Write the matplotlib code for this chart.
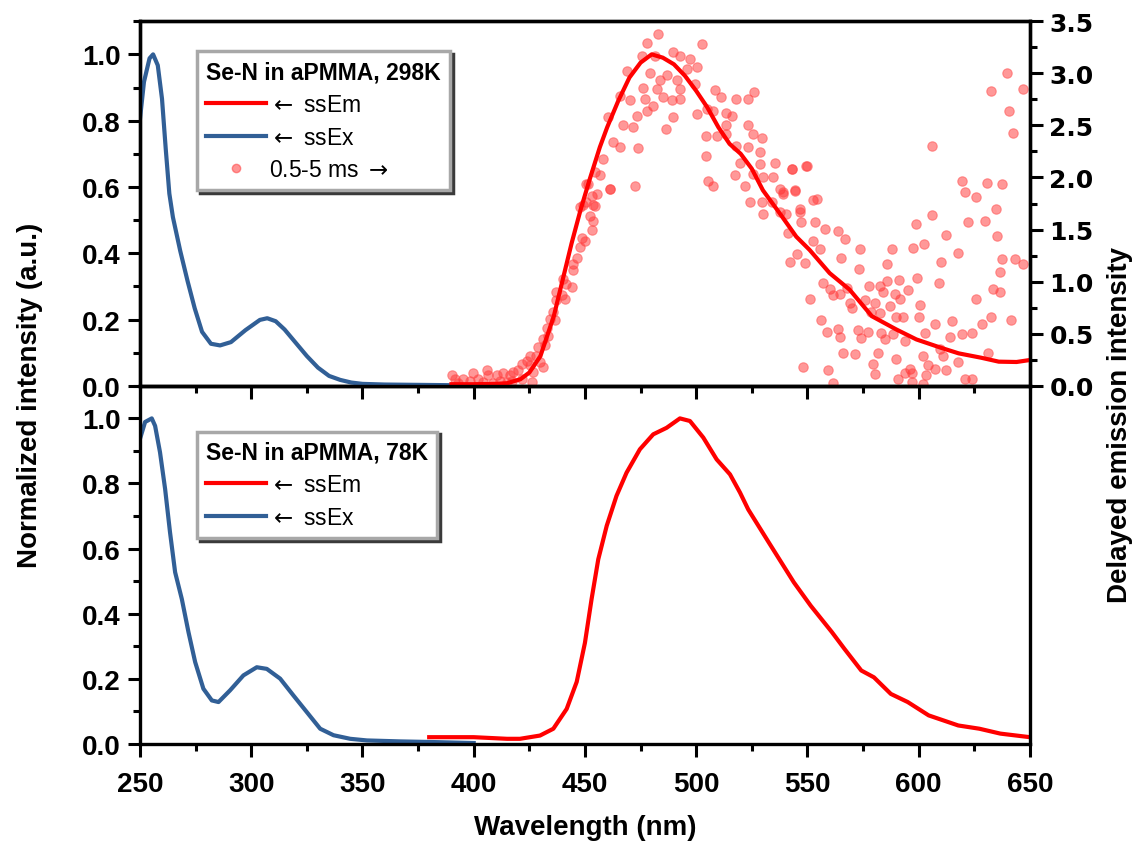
import matplotlib.pyplot as plt
import numpy as np
from matplotlib.ticker import MultipleLocator, FormatStrFormatter
from matplotlib.lines import Line2D

plt.rcParams['font.family'] = ['Liberation Sans', 'DejaVu Sans']

# ---- 298 K, steady state excitation (blue) ----
ex298_nm = [250, 251.8, 254.3, 255.9, 258, 259.9, 261.6, 263.2, 264.8, 268.1, 271.4, 274.6,
            277.9, 281.9, 286, 290.9, 297.4, 303.9, 307.2, 311, 315, 320, 325, 330, 335, 340,
            345, 350, 360, 375, 390]
ex298_int = [0.805, 0.917, 0.988, 1.0, 0.967, 0.866, 0.713, 0.58, 0.509, 0.407, 0.316, 0.234,
             0.163, 0.127, 0.122, 0.132, 0.168, 0.199, 0.204, 0.195, 0.17, 0.13, 0.09, 0.055,
             0.03, 0.018, 0.01, 0.006, 0.004, 0.003, 0.002]

# ---- 298 K, steady state emission (red) ----
em298_nm = [390, 400, 410, 415, 421, 425, 430, 433, 436, 440, 444, 448, 452, 456.7, 460, 465,
            470, 475, 480, 485, 490, 495, 500, 505, 510, 515, 520, 525, 530, 537.6, 545, 551,
            560, 569, 579, 590, 599, 610, 618, 628, 636, 644, 650]
em298_int = [0.005, 0.005, 0.006, 0.008, 0.02, 0.04, 0.09, 0.15, 0.21, 0.32, 0.43, 0.53, 0.62,
             0.72, 0.78, 0.86, 0.93, 0.975, 1.0, 0.99, 0.97, 0.935, 0.89, 0.84, 0.78, 0.73,
             0.70, 0.655, 0.59, 0.52, 0.45, 0.41, 0.34, 0.29, 0.21, 0.17, 0.14, 0.115, 0.098,
             0.085, 0.073, 0.072, 0.078]

# ---- 298 K, delayed emission 0.5-5 ms (right axis) ----
delayed_nm = [
    482.8, 477.7, 502.4, 475.5, 481.5, 489.7, 492.7, 497.2, 468.7, 479.2, 486.7, 483.7, 491.2,
    500.2, 495.7, 476.2, 482.2, 492.7, 499.4, 465.7, 470.2, 476.9, 485.2, 489.0, 492.7, 508.3,
    511.3, 518.1, 523.3, 525.9, 480.7, 477.7, 473.2, 460.5, 489.7, 500.2, 504.7, 507.6, 513.6,
    515.9, 467.2, 471.7, 486.4, 513.6, 523.3, 462.7, 465.7, 474.0, 504.4, 509.2, 513.6, 525.6,
    529.4, 458.2, 504.4, 518.1, 523.3, 528.7, 519.7, 528.7, 535.4, 542.9, 549.6, 454.5, 456.7,
    517.4, 525.6, 530.1, 534.6, 505.4, 507.6, 472.5, 461.2, 451.5, 521.8, 537.6, 544.4, 453.0,
    454.5, 524.2, 529.4, 533.9, 539.1, 530.1, 546.6, 552.6, 537.6, 450.7, 447.8,
    461.2, 450.7, 455.2, 449.2, 453.7, 452.2, 453.7, 453.0, 448.5, 450.0, 447.8, 446.3, 444.7,
    444.7, 440.2, 441.7, 444.0, 437.2, 439.5, 441.0, 437.2, 435.7, 434.3, 436.5, 432.8, 433.5,
    431.2, 432.0, 429.0, 428.2, 425.3, 429.8, 431.2, 423.8, 421.5, 425.3, 426.8, 420.0, 417.8,
    416.3, 413.3, 410.3, 411.8, 405.8, 406.5, 399.8, 402.1, 395.3, 390.1, 391.6, 398.3, 404.3,
    417.0, 421.5, 426.0, 393.1, 408.8, 414.8,
    639.5, 632.7, 647.0, 640.7, 642.5, 605.8, 542.9, 549.2, 619.3, 620.8, 630.5, 637.3, 626.0,
    539.1, 544.4, 554.1, 634.7, 605.8, 622.2, 629.8, 598.8, 540.6, 546.6, 553.3, 557.8, 563.8,
    541.3, 547.3, 566.9, 635.0, 612.1, 552.6, 555.6, 597.5, 602.4, 573.6, 587.8, 617.8, 637.3,
    643.3, 647.0, 545.1, 548.8, 542.1, 565.3, 585.8, 610.0, 636.5, 573.1, 599.4, 591.3, 556.8,
    585.8, 609.3, 577.8, 582.6, 560.1, 633.5, 567.6, 595.3, 636.5, 561.6, 564.6, 589.3, 584.1,
    591.6, 551.1, 625.7, 569.1, 575.8, 580.3, 587.1, 600.6, 569.9, 578.8, 582.6, 590.0, 593.0,
    600.2, 632.3, 556.3, 607.3, 614.8, 641.3, 628.3, 558.6, 563.8, 572.8, 577.3, 583.3, 588.6,
    593.8, 602.8, 619.7, 624.2, 614.0, 564.6, 574.3, 584.8, 609.6, 631.3, 566.0, 571.3, 581.8,
    602.0, 590.0, 611.0, 617.8, 604.3, 607.3, 612.5, 548.1, 559.4, 579.6, 580.3, 596.1, 596.8,
    593.8, 603.5, 590.8, 561.6, 620.8, 623.8, 596.8, 602.0]
delayed_int = [
    3.38, 3.29, 3.28, 3.17, 3.17, 3.20, 3.17, 3.14, 3.02, 3.00, 2.98, 2.94, 2.94,
    3.06, 3.04, 2.86, 2.85, 2.85, 2.90, 2.78, 2.74, 2.75, 2.77, 2.74, 2.75, 2.84,
    2.77, 2.75, 2.75, 2.82, 2.69, 2.64, 2.59, 2.58, 2.58, 2.61, 2.66, 2.64, 2.62,
    2.59, 2.50, 2.48, 2.47, 2.50, 2.50, 2.34, 2.29, 2.28, 2.40, 2.40, 2.42, 2.42,
    2.38, 2.18, 2.21, 2.30, 2.29, 2.24, 2.14, 2.13, 2.14, 2.08, 2.11, 2.05, 2.02,
    2.02, 2.03, 2.00, 2.00, 1.97, 1.92, 1.92, 1.89, 1.94, 1.92, 1.89, 1.87, 1.82,
    1.73, 1.76, 1.76, 1.76, 1.84, 1.65, 1.70, 1.78, 1.67, 1.76, 1.72,
    1.89, 1.94, 1.84, 1.74, 1.74, 1.63, 1.58, 1.50, 1.42, 1.39, 1.33, 1.23, 1.17,
    1.11, 1.03, 0.98, 0.95, 0.90, 0.87, 0.83, 0.82, 0.71, 0.64, 0.63, 0.56, 0.48,
    0.45, 0.39, 0.37, 0.29, 0.29, 0.23, 0.18, 0.24, 0.21, 0.20, 0.13, 0.15, 0.13,
    0.10, 0.12, 0.10, 0.05, 0.15, 0.10, 0.12, 0.07, 0.07, 0.10, 0.07, 0.05, 0.04,
    0.05, 0.07, 0.04, 0.03, 0.03, 0.04,
    3.00, 2.83, 2.85, 2.64, 2.43, 2.30, 2.08, 2.11, 1.97, 1.86, 1.95, 1.94, 1.81,
    1.86, 1.88, 1.79, 1.70, 1.64, 1.57, 1.58, 1.55, 1.65, 1.67, 1.57, 1.51, 1.49,
    1.47, 1.57, 1.41, 1.44, 1.45, 1.39, 1.31, 1.32, 1.36, 1.31, 1.31, 1.28, 1.22,
    1.22, 1.17, 1.27, 1.18, 1.19, 1.23, 1.17, 1.19, 1.09, 1.12, 1.04, 1.02, 0.99,
    1.01, 0.99, 0.96, 0.96, 0.93, 0.93, 0.94, 0.92, 0.90, 0.87, 0.88, 0.88, 0.90,
    0.83, 0.83, 0.83, 0.80, 0.82, 0.80, 0.77, 0.78, 0.75, 0.71, 0.70, 0.66, 0.66,
    0.66, 0.66, 0.63, 0.59, 0.62, 0.63, 0.59, 0.52, 0.55, 0.54, 0.52, 0.51, 0.50,
    0.43, 0.51, 0.50, 0.51, 0.47, 0.47, 0.46, 0.45, 0.35, 0.32, 0.32, 0.31, 0.32,
    0.29, 0.26, 0.29, 0.23, 0.20, 0.16, 0.15, 0.18, 0.15, 0.21, 0.11, 0.16, 0.12,
    0.12, 0.10, 0.07, 0.03, 0.07, 0.07, 0.04, 0.02]

# ---- 78 K ----
ex78_nm = [250, 252.3, 255.3, 256.8, 259, 261.3, 263.5, 265.8, 268.8, 271.8, 274.8, 278.5,
           282.3, 285.3, 290.5, 296.5, 302.5, 307, 313, 319, 325, 331, 337, 344.5, 352, 367,
           382, 400]
ex78_int = [0.937, 0.989, 1.0, 0.977, 0.896, 0.783, 0.65, 0.527, 0.445, 0.343, 0.251, 0.169,
            0.133, 0.128, 0.164, 0.21, 0.235, 0.23, 0.2, 0.148, 0.097, 0.046, 0.026, 0.015,
            0.01, 0.007, 0.005, 0.002]

em78_nm = [380, 400, 415, 420.8, 429.8, 435.8, 441.8, 446.3, 450, 453, 456, 459.8, 464.2,
           468.7, 474.7, 480.7, 486.7, 492.7, 497.2, 503.2, 509.2, 515.2, 519.7, 523.4, 532.6,
           543.9, 551.5, 561, 566.7, 574.2, 579.9, 587.5, 595.1, 604.5, 617.8, 627.3, 636.7,
           650]
em78_int = [0.02, 0.02, 0.015, 0.015, 0.025, 0.046, 0.107, 0.19, 0.31, 0.445, 0.567, 0.67,
            0.762, 0.833, 0.905, 0.951, 0.971, 1.0, 0.992, 0.941, 0.874, 0.828, 0.772, 0.72,
            0.619, 0.496, 0.424, 0.343, 0.291, 0.225, 0.204, 0.153, 0.128, 0.087, 0.056,
            0.046, 0.031, 0.02]

RED = '#ff0000'
BLUE = '#315f96'
LW = 3.0

fig = plt.figure(figsize=(11.38, 8.54), dpi=100)
ax1 = fig.add_axes([0.123, 0.547, 0.782, 0.427])
ax2 = fig.add_axes([0.123, 0.128, 0.782, 0.419])
ax1r = ax1.twinx()

# scatter behind the lines
ax1.set_zorder(ax1r.get_zorder() + 1)
ax1.patch.set_visible(False)

ax1.plot(ex298_nm, ex298_int, color=BLUE, lw=LW)
ax1.plot(em298_nm, em298_int, color=RED, lw=LW)
ax1r.scatter(delayed_nm, delayed_int, s=46, facecolor=(1, 0.2, 0.2, 0.5),
             edgecolor=(1, 0.3, 0.3, 0.55), linewidth=0.8)

ax2.plot(em78_nm, em78_int, color=RED, lw=LW)
ax2.plot(ex78_nm, ex78_int, color=BLUE, lw=LW)

for ax in (ax1, ax2):
    ax.set_xlim(250, 650)
    ax.set_ylim(0, 1.1)
    ax.xaxis.set_major_locator(MultipleLocator(50))
    ax.xaxis.set_minor_locator(MultipleLocator(25))
    ax.yaxis.set_major_locator(MultipleLocator(0.2))
    ax.yaxis.set_minor_locator(MultipleLocator(0.1))
    ax.yaxis.set_major_formatter(FormatStrFormatter('%.1f'))
    ax.tick_params(which='major', direction='out', length=9, width=2.2,
                   labelsize=20, right=False, top=False)
    ax.tick_params(which='minor', direction='out', length=5, width=2.2,
                   right=False, top=False)
    ax.tick_params(axis='x', which='major', pad=11)
    ax.tick_params(axis='y', which='major', pad=5)
    for sp in ax.spines.values():
        sp.set_linewidth(2.4)
    for lab in ax.get_xticklabels() + ax.get_yticklabels():
        lab.set_fontweight('bold')

ax1.tick_params(labelbottom=False)
ax1r.set_ylim(0, 3.5)
ax1r.yaxis.set_major_locator(MultipleLocator(0.5))
ax1r.yaxis.set_minor_locator(MultipleLocator(0.25))
ax1r.yaxis.set_major_formatter(FormatStrFormatter('%.1f'))
ax1r.tick_params(which='major', direction='out', length=9, width=2.2, labelsize=18, pad=5)
ax1r.tick_params(which='minor', direction='out', length=5, width=2.2)
for sp in ax1r.spines.values():
    sp.set_linewidth(2.4)
for lab in ax1r.get_yticklabels():
    lab.set_fontweight('bold')
    lab.set_family('DejaVu Sans')

ax2.set_xlabel('Wavelength (nm)', fontsize=20, fontweight='bold', labelpad=12)
fig.text(0.026, 0.537, 'Normalized intensity (a.u.)', rotation=90, fontsize=20,
         fontweight='bold', ha='center', va='center')
fig.text(0.984, 0.502, 'Delayed emission intensity', rotation=90, fontsize=20,
         fontweight='bold', ha='center', va='center')


def make_legend(ax, title, handles, labels, anchor):
    leg = ax.legend(handles, labels, title=title, loc='upper left', bbox_to_anchor=anchor,
                    borderaxespad=0, fontsize=16.5, handlelength=2.6, handletextpad=0.15,
                    labelspacing=0.42, borderpad=0.4, frameon=True, fancybox=False,
                    framealpha=1, edgecolor='#a8a8a8', facecolor='white',
                    shadow={'color': '#3a3a3a', 'alpha': 1.0},
                    title_fontproperties={'weight': 'bold', 'size': 16.5}, alignment='left',
                    scatterpoints=1)
    leg.get_frame().set_linewidth(2.5)
    return leg


h_em = Line2D([], [], color=RED, lw=LW)
h_ex = Line2D([], [], color=BLUE, lw=LW)
h_sc = Line2D([], [], ls='none', marker='o', ms=6, markerfacecolor=(1, 0.3, 0.3, 0.6),
              markeredgecolor=(1, 0.3, 0.3, 0.6))

make_legend(ax1, 'Se-N in aPMMA, 298K', [h_em, h_ex, h_sc],
            [r'$\leftarrow$ ssEm', r'$\leftarrow$ ssEx', r'0.5-5 ms $\rightarrow$'],
            (0.064, 0.918))
make_legend(ax2, 'Se-N in aPMMA, 78K', [h_em, h_ex],
            [r'$\leftarrow$ ssEm', r'$\leftarrow$ ssEx'], (0.064, 0.872))

fig.savefig('out.png', dpi=100)
